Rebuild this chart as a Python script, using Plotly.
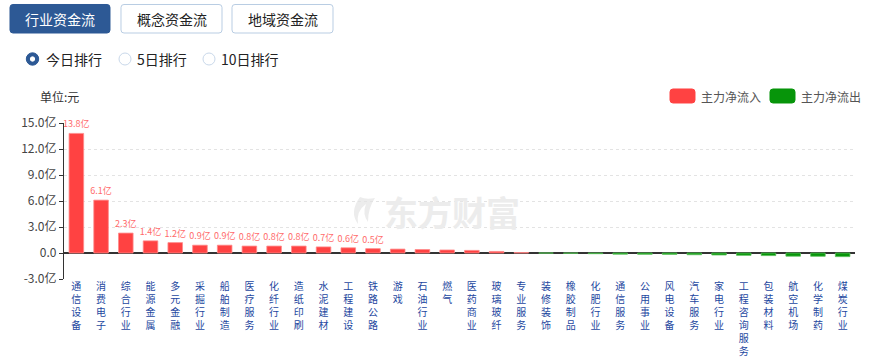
import plotly.graph_objects as go

# ---------------- data ----------------
categories = ["通信设备", "消费电子", "综合行业", "能源金属", "多元金融", "采掘行业", "船舶制造",
              "医疗服务", "化纤行业", "造纸印刷", "水泥建材", "工程建设", "铁路公路", "游戏",
              "石油行业", "燃气", "医药商业", "玻璃玻纤", "专业服务", "装修装饰", "橡胶制品",
              "化肥行业", "通信服务", "公用事业", "风电设备", "汽车服务", "家电行业",
              "工程咨询服务", "包装材料", "航空机场", "化学制药", "煤炭行业"]
net_flow = [13.8, 6.1, 2.3, 1.4, 1.2, 0.9, 0.9, 0.8, 0.8, 0.8, 0.7, 0.6, 0.5, 0.45,
            0.4, 0.35, 0.3, 0.18, 0.05, -0.01, -0.03, -0.08, -0.14, -0.15, -0.16, -0.2,
            -0.23, -0.27, -0.3, -0.37, -0.38, -0.42]
value_labels = ["13.8亿", "6.1亿", "2.3亿", "1.4亿", "1.2亿", "0.9亿", "0.9亿", "0.8亿",
                "0.8亿", "0.8亿", "0.7亿", "0.6亿", "0.5亿"]
y_tickvals = [-3, 0, 3, 6, 9, 12, 15]
y_ticktext = ["-3.0亿", "0.0", "3.0亿", "6.0亿", "9.0亿", "12.0亿", "15.0亿"]
tab_names = ["行业资金流", "概念资金流", "地域资金流"]
radio_names = ["今日排行", "5日排行", "10日排行"]
legend_names = ["主力净流入", "主力净流出"]

RED = "#ff4242"
GREEN = "#07950a"
FONT = "Noto Sans CJK SC"
TICKFONT = "Liberation Sans, Noto Sans CJK SC"

W, H = 871, 362
L, R, T, B = 64, 16, 123, 83
PW, PH = W - L - R, H - T - B


def px(x):
    return (x - L) / PW


def py(y):
    return (H - B - y) / PH


pos_x = [c for c, v in zip(categories, net_flow) if v >= 0]
pos_y = [v for v in net_flow if v >= 0]
neg_x = [c for c, v in zip(categories, net_flow) if v < 0]
neg_y = [v for v in net_flow if v < 0]
pos_text = value_labels + [""] * (len(pos_y) - len(value_labels))

fig = go.Figure()
fig.add_trace(go.Bar(x=pos_x, y=pos_y, name=legend_names[0], marker=dict(color=RED, line=dict(color="#ff8a8a", width=0.8)),
                     text=pos_text, textposition="outside", constraintext="none", cliponaxis=False,
                     textfont=dict(size=9, color="#ff6b6b", family=FONT), showlegend=False))
fig.add_trace(go.Bar(x=neg_x, y=neg_y, name=legend_names[1], marker=dict(color=GREEN, line=dict(color="#5cbf5c", width=0.8)),
                     showlegend=False, cliponaxis=False))

xticktext = ["<br>".join(list(c)) for c in categories]

shapes = []
annotations = []


def rrect(x0, y0, x1, y1, r, fill, line_color, lw=1):
    pts = [
        ("M", px(x0 + r), py(y0)),
        ("L", px(x1 - r), py(y0)),
        ("Q", px(x1), py(y0), px(x1), py(y0 + r)),
        ("L", px(x1), py(y1 - r)),
        ("Q", px(x1), py(y1), px(x1 - r), py(y1)),
        ("L", px(x0 + r), py(y1)),
        ("Q", px(x0), py(y1), px(x0), py(y1 - r)),
        ("L", px(x0), py(y0 + r)),
        ("Q", px(x0), py(y0), px(x0 + r), py(y0)),
    ]
    d = ""
    for p in pts:
        d += p[0] + " " + " ".join(f"{v:.5f}" for v in p[1:]) + " "
    d += "Z"
    shapes.append(dict(type="path", path=d, xref="paper", yref="paper", fillcolor=fill,
                       line=dict(color=line_color, width=lw), layer="above"))


def circle(cx, cy, r, fill, line_color, lw=1):
    shapes.append(dict(type="circle", xref="paper", yref="paper", x0=px(cx - r), x1=px(cx + r),
                       y0=py(cy + r), y1=py(cy - r), fillcolor=fill, line=dict(color=line_color, width=lw),
                       layer="above"))


def text(x, y, s, size, color, xanchor="center", bold=False):
    annotations.append(dict(x=px(x), y=py(y), xref="paper", yref="paper", text=("<b>%s</b>" % s) if bold else s,
                            showarrow=False, xanchor=xanchor, yanchor="middle",
                            font=dict(size=size, color=color, family=FONT)))


# tabs
tabs = [(10, 110), (121, 222), (232, 333)]
for i, (x0, x1) in enumerate(tabs):
    if i == 0:
        rrect(x0, 4.5, x1, 33, 3, "#2d5995", "#2d5995")
        text((x0 + x1) / 2, 19, tab_names[i], 14, "#ffffff")
    else:
        rrect(x0, 4.5, x1, 33, 3, "#ffffff", "#b9cde3")
        text((x0 + x1) / 2, 19, tab_names[i], 14, "#222222")

# radios
circle(32.5, 59, 6.2, "#2d5995", "#2d5995")
circle(32.5, 59, 2.2, "#ffffff", "#ffffff")
circle(125, 59, 6, "#ffffff", "#c9d8ea")
circle(209, 59, 6, "#ffffff", "#c9d8ea")
text(44, 59, radio_names[0], 14, "#222222", "left")
text(135, 59, radio_names[1], 14, "#222222", "left")
text(219, 59, radio_names[2], 14, "#222222", "left")

# unit
text(38, 96, "单位:元", 12, "#333333", "left")

# legend
rrect(670, 89, 695, 103, 3, RED, RED)
text(699, 96, legend_names[0], 12, "#555555", "left")
rrect(770, 89, 795, 103, 3, GREEN, GREEN)
text(799, 96, legend_names[1], 12, "#555555", "left")

# watermark
text(452, 211, "东方财富", 34, "#ececec", bold=True)
wm = (f"M {px(360):.5f} {py(197):.5f} Q {px(349):.5f} {py(212):.5f} {px(358):.5f} {py(224):.5f} "
      f"Q {px(356):.5f} {py(211):.5f} {px(366):.5f} {py(204):.5f} Q {px(362):.5f} {py(214):.5f} {px(368):.5f} {py(222):.5f} "
      f"Q {px(368):.5f} {py(208):.5f} {px(375):.5f} {py(198):.5f} Q {px(366):.5f} {py(200):.5f} {px(360):.5f} {py(197):.5f} Z")
shapes.append(dict(type="path", path=wm, xref="paper", yref="paper", fillcolor="#ececec",
                   line=dict(color="#ececec", width=0), layer="below"))

fig.update_layout(
    width=W, height=H,
    margin=dict(l=L, r=R, t=T, b=B, pad=0),
    paper_bgcolor="#ffffff", plot_bgcolor="#ffffff",
    barmode="relative", bargap=0.41,
    font=dict(family=FONT, color="#333333"),
    shapes=shapes, annotations=annotations,
    xaxis=dict(type="category", categoryorder="array", categoryarray=categories,
               tickmode="array", tickvals=categories, ticktext=xticktext, tickangle=0,
               tickfont=dict(size=10, color="#1d47a0", family=TICKFONT),
               showgrid=False, showline=False, ticks="", zeroline=False, fixedrange=True,
               automargin=False),
    yaxis=dict(range=[-3, 15], tickmode="array", tickvals=y_tickvals, ticktext=y_ticktext,
               tickfont=dict(size=12, color="#444444", family=FONT),
               showgrid=True, gridcolor="#e3e3e3", griddash="3px,3px", gridwidth=1,
               showline=True, linecolor="#333333", linewidth=1.2,
               ticks="outside", ticklen=4, tickcolor="#333333",
               zeroline=True, zerolinecolor="#333333", zerolinewidth=1.5, fixedrange=True,
               automargin=False),
)

fig.write_html("out.html", config={"displayModeBar": False},
               post_script="document.body.style.margin='0';document.body.style.overflow='hidden';")
